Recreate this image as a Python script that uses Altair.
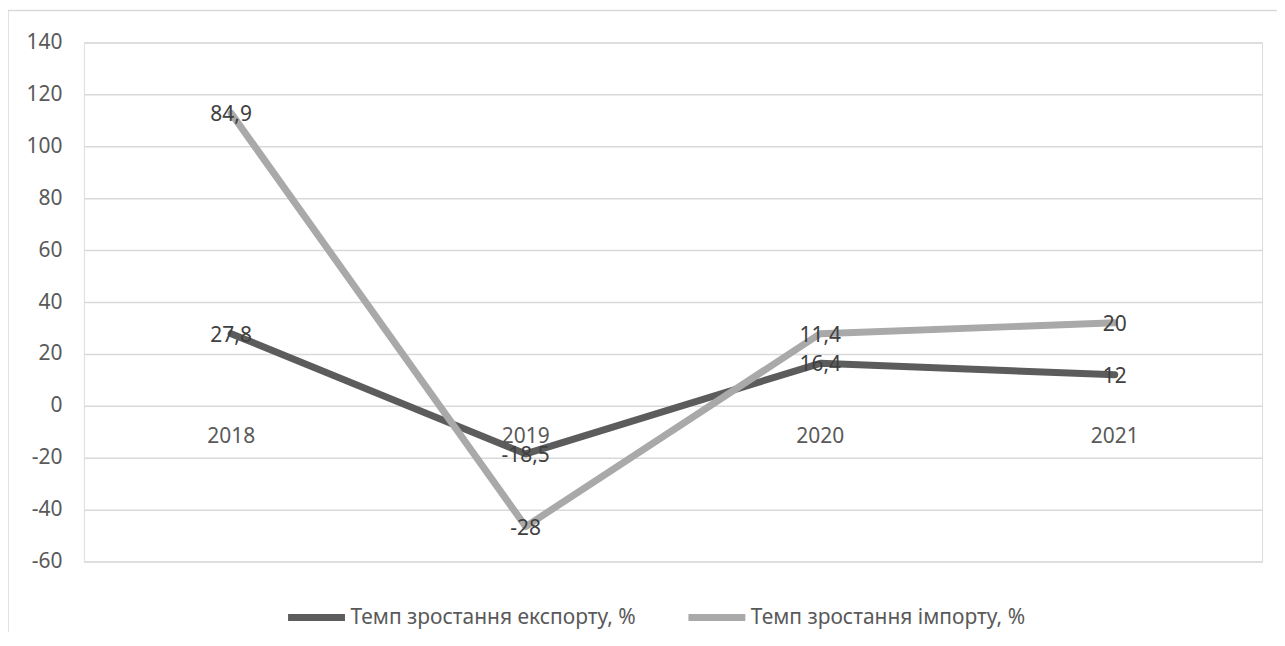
import altair as alt
import pandas as pd

years = ["2018", "2019", "2020", "2021"]
export_name = "Темп зростання експорту, %"
import_name = "Темп зростання імпорту, %"
export_vals = [27.8, -18.5, 16.4, 12]
import_vals = [84.9, -28, 11.4, 20]
y_ticks = [-60, -40, -20, 0, 20, 40, 60, 80, 100, 120, 140]

rows = []
for i, y in enumerate(years):
    rows.append({"year": y, "series": export_name, "idx": 0, "value": export_vals[i]})
    rows.append({"year": y, "series": import_name, "idx": 1, "value": import_vals[i]})
df = pd.DataFrame(rows)

FONT = "Noto Sans"
FS = 21
W, H = 1180, 520

xscale = alt.Scale(type="point", domain=years, padding=0.5)
yscale = alt.Scale(domain=[-60, 140], nice=False)

base = alt.Chart(df).transform_window(
    cum="sum(value)", groupby=["year"], sort=[alt.SortField("idx")], frame=[None, 0]
).transform_calculate(
    label="replace(toString(datum.value), '.', ',')"
)

lines = base.mark_line(strokeWidth=7, strokeCap="round", strokeJoin="round").encode(
    x=alt.X("year:N", scale=xscale, axis=None),
    y=alt.Y(
        "cum:Q",
        scale=yscale,
        title=None,
        axis=alt.Axis(
            values=y_ticks,
            grid=True,
            gridColor="#d9d9d9",
            gridWidth=1.5,
            domain=False,
            ticks=False,
            labelPadding=22,
            labelFont=FONT,
            labelFontSize=FS,
            labelColor="#595959",
            labelExpr="toString(datum.value)",
        ),
    ),
    color=alt.Color(
        "series:N",
        scale=alt.Scale(domain=[export_name, import_name], range=["#5c5c5c", "#a9a9a9"]),
        legend=alt.Legend(
            title=None,
            orient="none",
            direction="horizontal",
            legendX=201,
            legendY=544,
            symbolType="stroke",
            symbolSize=3249,
            symbolStrokeWidth=7,
            labelFont=FONT,
            labelFontSize=FS,
            labelColor="#595959",
            labelOffset=2,
            columnPadding=38,
            labelLimit=400,
        ),
    ),
    detail="series:N",
)

labels = base.mark_text(font=FONT, fontSize=FS, color="#404040", baseline="middle", dy=2).encode(
    x=alt.X("year:N", scale=xscale, axis=None),
    y=alt.Y("cum:Q", scale=yscale),
    text="label:N",
)

year_df = pd.DataFrame({"year": years})
year_labels = alt.Chart(year_df).mark_text(
    font=FONT, fontSize=FS, color="#595959", baseline="middle", dy=31
).encode(
    x=alt.X("year:N", scale=xscale, axis=None),
    y=alt.Y(datum=0, type="quantitative", scale=yscale),
    text="year:N",
)

border = alt.Chart(pd.DataFrame({"a": [0]})).mark_rect(
    fillOpacity=0, stroke="#d9d9d9", strokeWidth=1.5
).encode(
    x=alt.value(-76), x2=alt.value(1240), y=alt.value(-32), y2=alt.value(640)
)

chart = alt.layer(border, lines, labels, year_labels).properties(
    width=W,
    height=H,
    autosize=alt.AutoSizeParams(type="none"),
    padding={"left": 76, "top": 34, "right": 15, "bottom": 70},
).configure_view(stroke=None).configure(background="white")

chart.save("out.html", embed_options={"renderer": "svg", "actions": False})
